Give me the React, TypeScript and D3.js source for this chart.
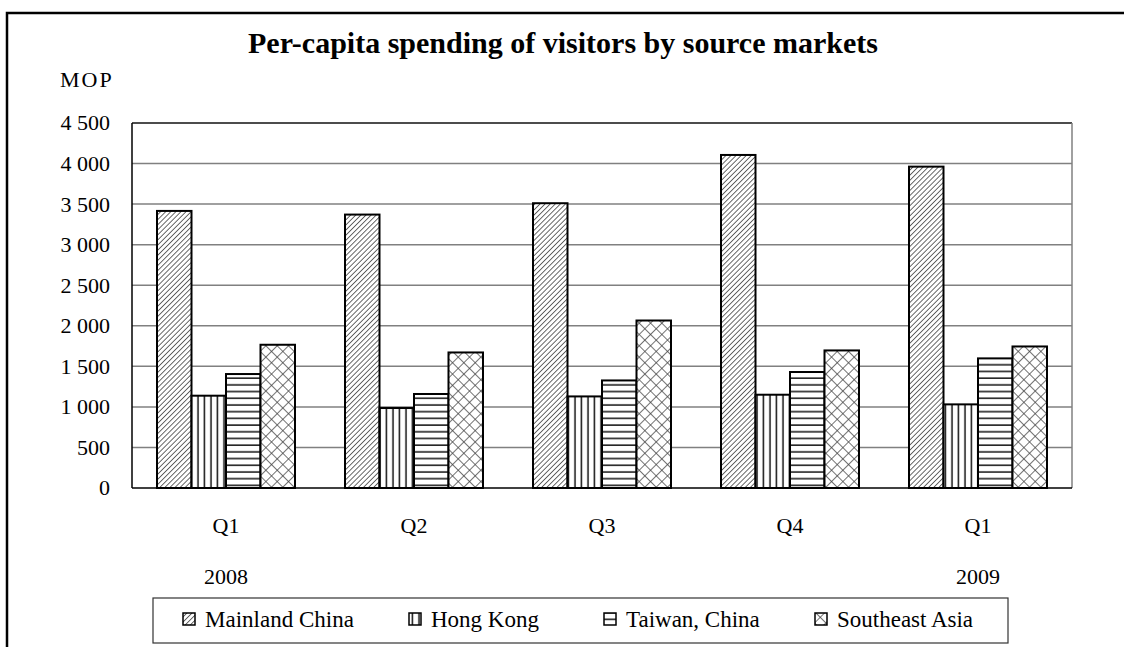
import React from "react";
import * as d3 from "d3";

const categories = ["Q1", "Q2", "Q3", "Q4", "Q1 "];
const categoryLabels = ["Q1", "Q2", "Q3", "Q4", "Q1"];
const yearLabels = ["2008", "", "", "", "2009"];
const seriesNames = ["Mainland China", "Hong Kong", "Taiwan, China", "Southeast Asia"];
const mainland = [3416, 3371, 3511, 4106, 3962];
const hongKong = [1138, 986, 1129, 1150, 1031];
const taiwan = [1405, 1159, 1326, 1430, 1598];
const seAsia = [1766, 1671, 2065, 1696, 1745];
const yTicks = [0, 500, 1000, 1500, 2000, 2500, 3000, 3500, 4000, 4500];

const seriesValues = [mainland, hongKong, taiwan, seAsia];
const patternIds = ["pDiag", "pVert", "pHorz", "pCross"];
const FONT = "'Liberation Serif', 'Times New Roman', serif";

const fmt = (v: number) => {
  const s = String(v);
  return s.length > 3 ? s.slice(0, s.length - 3) + " " + s.slice(-3) : s;
};

export default function App() {
  const left = 132, right = 1072, top = 123, bottom = 488;
  const x = d3.scaleBand<string>().domain(categories).range([left, right]).paddingInner(0.266).paddingOuter(0.133);
  const xs = d3.scaleBand<string>().domain(seriesNames).range([0, x.bandwidth()]);
  const y = d3.scaleLinear().domain([0, 4500]).range([bottom, top]);

  const legendX = [183, 409, 604, 815];

  return (
    <svg width={1124} height={647} style={{ position: "absolute", left: 0, top: 0, background: "#fff" }} fontFamily={FONT}>
      <defs>
        <pattern id="pDiag" width={3.6} height={3.6} patternUnits="userSpaceOnUse" patternTransform="rotate(45)">
          <rect width={3.6} height={3.6} fill="#fff" />
          <line x1={0} y1={0} x2={0} y2={3.6} stroke="#444" strokeWidth={1.6} />
        </pattern>
        <pattern id="pVert" width={6.5} height={6.5} patternUnits="userSpaceOnUse">
          <rect width={6.5} height={6.5} fill="#fff" />
          <line x1={3} y1={0} x2={3} y2={6.5} stroke="#111" strokeWidth={1.5} />
        </pattern>
        <pattern id="pHorz" width={6.7} height={6.7} patternUnits="userSpaceOnUse">
          <rect width={6.7} height={6.7} fill="#fff" />
          <line x1={0} y1={3} x2={6.7} y2={3} stroke="#111" strokeWidth={1.5} />
        </pattern>
        <pattern id="pCross" width={8} height={8} patternUnits="userSpaceOnUse" patternTransform="rotate(45)">
          <rect width={8} height={8} fill="#fff" />
          <line x1={0} y1={0} x2={0} y2={8} stroke="#444" strokeWidth={1.5} />
          <line x1={0} y1={0} x2={8} y2={0} stroke="#444" strokeWidth={1.5} />
        </pattern>
      </defs>

      <rect x={7} y={13} width={1200} height={700} fill="none" stroke="#000" strokeWidth={2.5} />

      <text x={563} y={53} textAnchor="middle" fontSize={30} fontWeight="bold">
        Per-capita spending of visitors by source markets
      </text>
      <text x={60} y={87} fontSize={22} letterSpacing={2}>MOP</text>

      {yTicks.map((t) => (
        <g key={t}>
          {t > 0 && t < 4500 && (
            <line x1={left} x2={right} y1={y(t)} y2={y(t)} stroke="#808080" strokeWidth={1.5} />
          )}
          <text x={110} y={y(t)} dy="0.34em" textAnchor="end" fontSize={22}>{fmt(t)}</text>
        </g>
      ))}
      <line x1={left} x2={right} y1={top} y2={top} stroke="#111" strokeWidth={1.5} />
      <line x1={right} x2={right} y1={top} y2={bottom} stroke="#808080" strokeWidth={1.5} />

      {categories.map((c, i) => (
        <g key={c}>
          {seriesNames.map((s, j) => {
            const v = seriesValues[j][i];
            return (
              <rect
                key={s}
                x={(x(c) as number) + (xs(s) as number)}
                y={y(v)}
                width={xs.bandwidth()}
                height={bottom - y(v)}
                fill={`url(#${patternIds[j]})`}
                stroke="#000"
                strokeWidth={2}
              />
            );
          })}
          <text x={(x(c) as number) + x.bandwidth() / 2} y={533} textAnchor="middle" fontSize={22}>
            {categoryLabels[i]}
          </text>
          {yearLabels[i] && (
            <text x={(x(c) as number) + x.bandwidth() / 2} y={584} textAnchor="middle" fontSize={22}>
              {yearLabels[i]}
            </text>
          )}
        </g>
      ))}

      <line x1={left} x2={left} y1={top} y2={bottom} stroke="#000" strokeWidth={1.5} />
      <line x1={left} x2={right} y1={bottom} y2={bottom} stroke="#000" strokeWidth={1.5} />

      <rect x={153} y={598} width={855} height={45} fill="#fff" stroke="#333" strokeWidth={1.2} />
      {seriesNames.map((s, j) => (
        <g key={s}>
          <rect x={legendX[j]} y={613} width={12} height={12} fill={`url(#${patternIds[j]})`} stroke="#000" strokeWidth={1.5} />
          <text x={legendX[j] + 22} y={627} fontSize={23}>{s}</text>
        </g>
      ))}
    </svg>
  );
}
